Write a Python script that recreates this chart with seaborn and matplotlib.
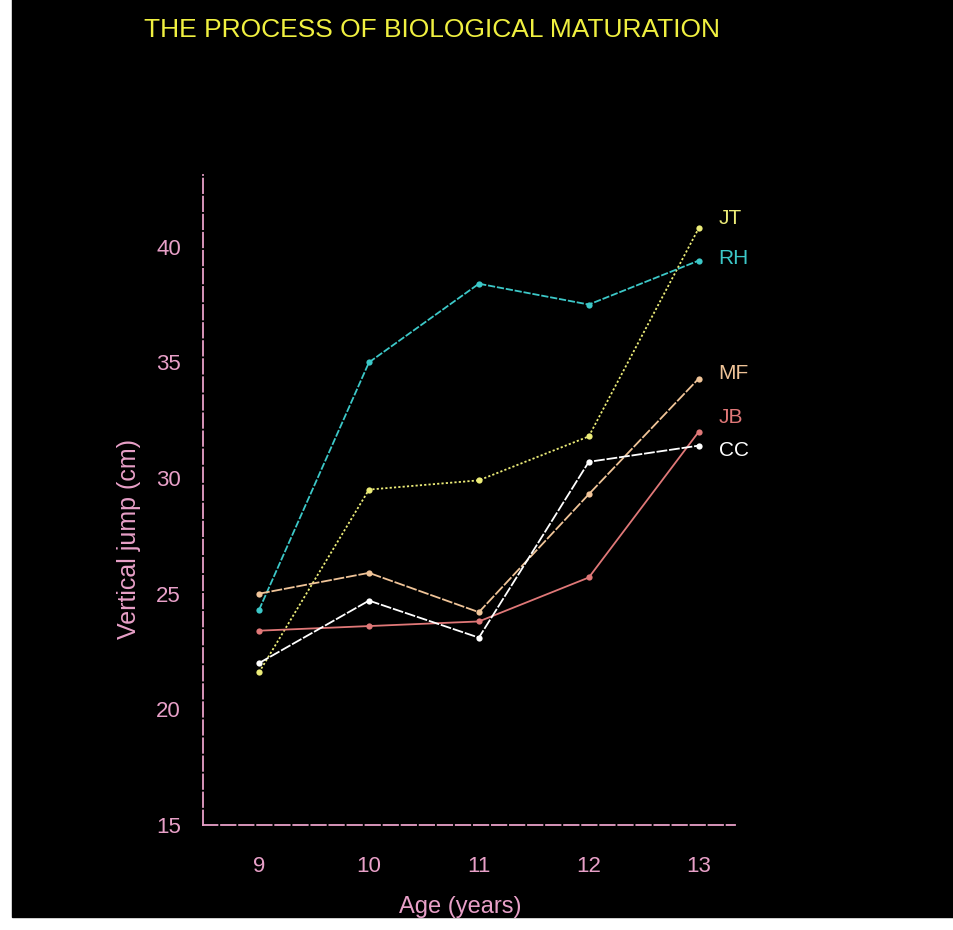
import pandas as pd
import matplotlib
matplotlib.use("Agg")
import matplotlib.pyplot as plt
from matplotlib.patches import Rectangle
import seaborn as sns

#Data
ages = [9, 10, 11, 12, 13]
jt = [21.6, 29.5, 29.9, 31.8, 40.8]
rh = [24.3, 35.0, 38.4, 37.5, 39.4]
mf = [25.0, 25.9, 24.2, 29.3, 34.3]
jb = [23.4, 23.6, 23.8, 25.7, 32.0]
cc = [22.0, 24.7, 23.1, 30.7, 31.4]
names = ["JT", "RH", "MF", "JB", "CC"]
label_y = [41.2, 39.5, 34.5, 32.6, 31.2]

#Long form table for seaborn
rows = []
for name, vals in zip(names, [jt, rh, mf, jb, cc]):
    for a, v in zip(ages, vals):
        rows.append({"age": a, "jump": v, "subject": name})
df = pd.DataFrame(rows)

pal = {"JT": "#ecec78", "RH": "#3cc8c8", "MF": "#f0c498", "JB": "#e07878", "CC": "#ffffff"}
dash = {"JT": (1.2, 1.2), "RH": (4, 1), "MF": (6, 1), "JB": "", "CC": (6, 1)}
pink = "#e8a0c8"

sns.set_style("dark")
plt.rcParams["font.family"] = ["Liberation Sans", "DejaVu Sans"]

fig = plt.figure(figsize=(9.54, 9.30), dpi=100, facecolor="white")
fig.patches.append(Rectangle((12 / 954, 13 / 930), 2, 2, transform=fig.transFigure,
                             color="black", zorder=-1))
ax = fig.add_axes([203 / 954, 1 - 825 / 930, 532 / 954, 650 / 930])
ax.set_facecolor("black")

sns.lineplot(data=df, x="age", y="jump", hue="subject", style="subject",
             palette=pal, dashes=dash, markers={n: "o" for n in names},
             markersize=4.5, markeredgewidth=0, linewidth=1.3, legend=False, ax=ax)

#Series labels on the right
for name, y in zip(names, label_y):
    ax.text(13.18, y, name, color=pal[name], fontsize=15, va="center", ha="left")

ax.set_xlim(8.49, 13.33)
ax.set_ylim(15, 43.1)
ax.set_xticks(ages)
ax.set_yticks([15, 20, 25, 30, 35, 40])
ax.grid(False)

for s in ["top", "right"]:
    ax.spines[s].set_visible(False)
for s in ["left", "bottom"]:
    ax.spines[s].set_visible(True)
    ax.spines[s].set_color(pink)
    ax.spines[s].set_linewidth(1.3)
    ax.spines[s].set_linestyle((0, (8, 2)))

ax.tick_params(axis="both", colors=pink, labelcolor=pink, direction="inout",
               length=12, width=1.2, labelsize=16)
ax.tick_params(axis="x", pad=16)
ax.tick_params(axis="y", pad=10)

ax.set_xlabel("Age (years)", color=pink, fontsize=17)
ax.set_ylabel("Vertical jump (cm)", color=pink, fontsize=18)
ax.xaxis.label.set_va("center")
ax.yaxis.label.set_va("center")
ax.xaxis.set_label_coords(0.483, -0.126)
ax.yaxis.set_label_coords(-0.14, 0.44)

fig.text(0.453, 0.968, "THE PROCESS OF BIOLOGICAL MATURATION", color="#f0f040",
         fontsize=19, ha="center", va="center")

fig.savefig("out.png", dpi=100, facecolor=fig.get_facecolor())
